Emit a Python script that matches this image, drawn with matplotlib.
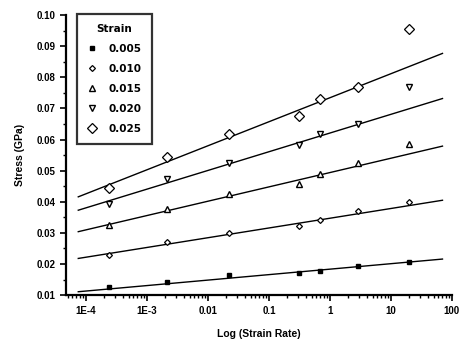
import matplotlib
matplotlib.use("Agg")
import matplotlib.pyplot as plt
from matplotlib.ticker import LogLocator, MultipleLocator, FixedLocator, FixedFormatter

plt.rcParams['font.family'] = ['Liberation Sans', 'DejaVu Sans']

# --- Data ---
strain_labels = ["0.005", "0.010", "0.015", "0.020", "0.025"]
strain_rate = [2.4e-4, 2.1e-3, 0.022, 0.31, 0.68, 2.9, 20]

stress_005 = [0.0127, 0.0143, 0.0164, 0.0171, 0.0178, 0.0193, 0.0206]
stress_010 = [0.0229, 0.0271, 0.0300, 0.0322, 0.0341, 0.0372, 0.0399]
stress_015 = [0.0325, 0.0376, 0.0425, 0.0457, 0.0491, 0.0524, 0.0585]
stress_020 = [0.0392, 0.0472, 0.0525, 0.0584, 0.0617, 0.0650, 0.0768]
stress_025 = [0.0445, 0.0545, 0.0618, 0.0676, 0.0732, 0.0768, 0.0957]

# fitted lines: value at each end of the fit range
fit_rate = [7.5e-5, 70]
fit_005 = [0.0111, 0.0216]
fit_010 = [0.0218, 0.0405]
fit_015 = [0.0304, 0.0579]
fit_020 = [0.0373, 0.0732]
fit_025 = [0.0416, 0.0877]

xtick_vals = [1e-4, 1e-3, 1e-2, 1e-1, 1, 10, 100]
xtick_text = ["1E-4", "1E-3", "0.01", "0.1", "1", "10", "100"]

series = [stress_005, stress_010, stress_015, stress_020, stress_025]
fits = [fit_005, fit_010, fit_015, fit_020, fit_025]
markers = [
    dict(marker='s', ms=3, mfc='black', mec='black'),
    dict(marker='D', ms=3, mfc='white', mec='black', mew=0.9),
    dict(marker='^', ms=5, mfc='white', mec='black', mew=1.0),
    dict(marker='v', ms=5, mfc='white', mec='black', mew=1.0),
    dict(marker='D', ms=5, mfc='white', mec='black', mew=0.9),
]

# --- Figure ---
fig = plt.figure(figsize=(4.64, 3.44), dpi=100)
ax = fig.add_axes([0.142, 0.142, 0.832, 0.814])

for ys, fy, lab, mk in zip(series, fits, strain_labels, markers):
    ax.plot(fit_rate, fy, color='black', lw=1.0)
    ax.plot(strain_rate, ys, ls='none', label=lab, **mk)

ax.set_xscale('log')
ax.set_xlim(4.7e-5, 100)
ax.set_ylim(0.01, 0.10)

ax.xaxis.set_major_locator(FixedLocator(xtick_vals))
ax.xaxis.set_major_formatter(FixedFormatter(xtick_text))
ax.xaxis.set_minor_locator(LogLocator(base=10, subs=range(2, 10), numticks=20))
ax.yaxis.set_major_locator(MultipleLocator(0.01))
ax.yaxis.set_minor_locator(MultipleLocator(0.005))
ax.yaxis.set_major_formatter(plt.FuncFormatter(lambda v, p: f"{v:.2f}"))

for s in ['top', 'right']:
    ax.spines[s].set_visible(False)
for s in ['left', 'bottom']:
    ax.spines[s].set_linewidth(1.6)

ax.tick_params(which='major', direction='out', length=4, width=1.2, labelsize=7)
ax.tick_params(which='minor', direction='out', length=2.5, width=1.0)
for t in ax.get_xticklabels() + ax.get_yticklabels():
    t.set_fontweight('bold')

ax.set_xlabel("Log (Strain Rate)", fontsize=7.5, fontweight='bold', labelpad=10)
ax.set_ylabel("Stress (GPa)", fontsize=7.5, fontweight='bold', labelpad=8)

leg = ax.legend(title="Strain", loc='upper left', bbox_to_anchor=(0.028, 1.005),
                borderaxespad=0, fancybox=False, edgecolor='black',
                prop={'family': 'DejaVu Sans', 'size': 7.5, 'weight': 'bold'},
                title_fontsize=7.5, handlelength=1.0, handletextpad=1.1,
                labelspacing=0.95, borderpad=1.0)
leg.get_frame().set_linewidth(1.6)
leg.get_title().set_fontweight('bold')
leg.get_title().set_family('DejaVu Sans')

fig.savefig("out.png", dpi=100)
